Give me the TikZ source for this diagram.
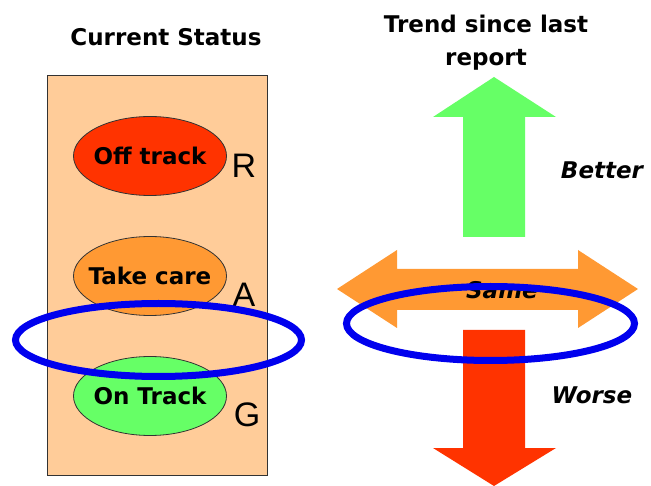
\documentclass[tikz,border=0pt]{standalone}
\usepackage{fontspec}
\setmainfont{DejaVu Sans}
\newfontfamily\argfont{Liberation Sans}
\usetikzlibrary{shapes.geometric}
\definecolor{peach}{HTML}{FFCC99}
\definecolor{offred}{HTML}{FF3300}
\definecolor{amber}{HTML}{FF9933}
\definecolor{okgreen}{HTML}{66FF66}
\definecolor{hiblue}{HTML}{0000EE}
\newcommand\zerowide[1]{\makebox[0pt][c]{#1}}
\begin{document}
\begin{tikzpicture}[x=1pt,y=-1pt,
 status/.style={ellipse, draw=black!80, line width=0.8pt, minimum width=153pt, minimum height=79pt, inner sep=0pt, font=\fontsize{23}{27}\selectfont\bfseries},
 letter/.style={font=\argfont\fontsize{34}{40}\selectfont, inner sep=0pt},
 heading/.style={font=\fontsize{23}{33}\selectfont\bfseries, align=center, inner sep=0pt},
 trend/.style={font=\fontsize{23}{27}\selectfont\bfseries\itshape, inner sep=0pt},
 highlight/.style={ellipse, draw=hiblue, line width=7pt, inner sep=0pt}]
\useasboundingbox (0,0) rectangle (651,486);
\fill[white] (0,0) rectangle (651,486);
% left panel
\node[heading] (cs) at (166,37) {Current Status};
\node[draw=black!80, fill=peach, line width=0.8pt, minimum width=220pt, minimum height=400pt, inner sep=0pt] (panel) at (157.7,275) {};
\node[status, fill=offred] (off) at (150,156) {\zerowide{Off track}};
\node[status, fill=amber] (care) at (150,276) {\zerowide{Take care}};
\node[status, fill=okgreen] (ontrack) at (150,396) {\zerowide{On Track}};
\node[letter] (R) at (244,166) {R};
\node[letter] (A) at (244,295) {A};
\node[letter] (G) at (247,415) {G};
% right: trend arrows
\node[heading] (trendhead) at (486,43) {Trend since last\\report};
\fill[okgreen] (463,237) -- (463,117) -- (433,117) -- (494,77) -- (556,117) -- (525,117) -- (525,237) -- cycle;
\fill[amber] (337,289) -- (397,250) -- (397,269) -- (578,269) -- (578,250) -- (638,289) -- (578,328) -- (578,310) -- (397,310) -- (397,328) -- cycle;
\fill[offred] (463,330) -- (525,330) -- (525,448) -- (556,448) -- (494,486) -- (433,448) -- (463,448) -- cycle;
\node[trend] (better) at (602,170) {Better};
\node[trend] (same) at (502,290) {Same};
\node[trend] (worse) at (592,395) {Worse};
% highlight rings
\node[highlight, minimum width=286pt, minimum height=73pt] (ringL) at (158.5,340) {};
\node[highlight, minimum width=288pt, minimum height=74pt] (ringR) at (490.5,323.5) {};
\end{tikzpicture}
\end{document}
